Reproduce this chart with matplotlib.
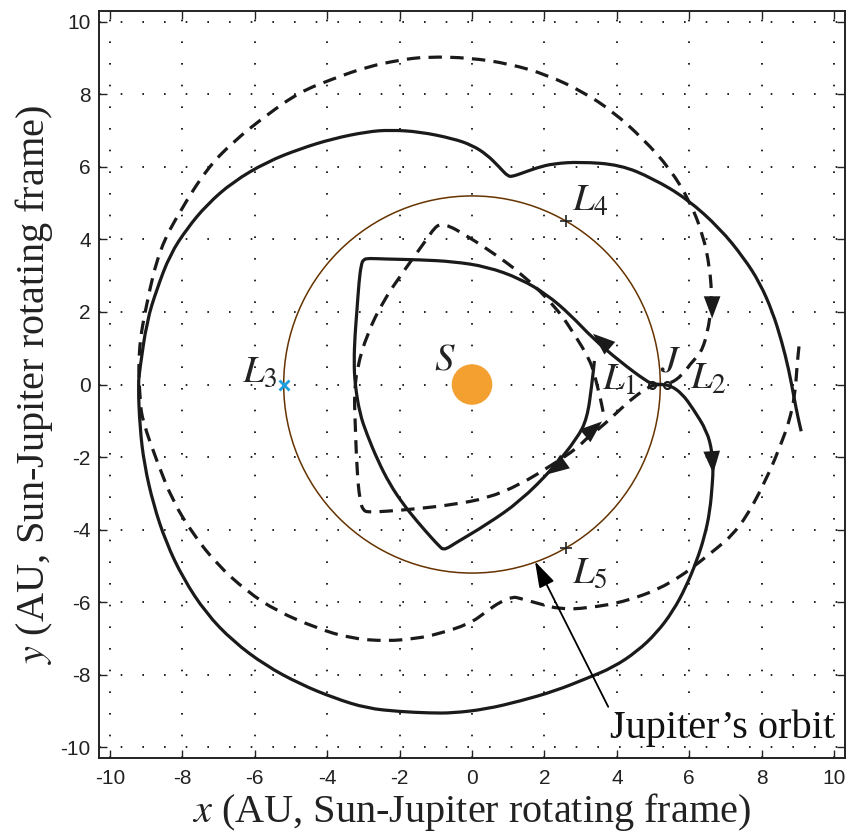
import numpy as np
import matplotlib
matplotlib.use("Agg")
import matplotlib.pyplot as plt
from matplotlib.patches import Circle, PathPatch
from matplotlib.path import Path

plt.rcParams["mathtext.fontset"] = "stix"
plt.rcParams["font.family"] = ["Liberation Serif", "DejaVu Serif"]
plt.rcParams["axes.unicode_minus"] = False

# ---- data (AU, rotating frame) ----
R_JUP = 5.2
R_SUN = 0.54

# unstable branch (solid), interior piece: from J round the inner loop
solid_in_x = [5.2, 5.0, 4.83, 4.09, 3.34, 2.71, 2.07, 1.33, 0.41, -0.52, -1.44,
              -2.4, -2.85, -3.0, -3.06, -3.12, -3.18, -3.23, -3.26, -3.23, -3.1,
              -2.9, -2.6, -2.27, -1.9, -1.52, -1.1, -0.88, -0.8, -0.65, -0.52,
              0.41, 1.33, 2.24, 2.9, 3.18, 3.31, 3.38]
solid_in_y = [0.0, 0.02, 0.08, 0.63, 1.27, 1.93, 2.48, 2.92, 3.25, 3.39, 3.44,
              3.46, 3.48, 3.45, 3.3, 2.84, 2.0, 1.38, 0.63, 0.0, -0.8,
              -1.38, -2.1, -2.75, -3.3, -3.77, -4.25, -4.48, -4.55, -4.5, -4.41,
              -3.86, -3.22, -2.31, -1.49, -0.94, 0.0, 0.65]

# unstable branch (solid), exterior piece: from J round the outside
solid_out_x = [5.2, 5.47, 5.8, 6.1, 6.49, 6.63, 6.66, 6.64, 6.57, 6.42, 6.2,
               5.9, 5.55, 5.1, 4.56, 3.9, 3.18, 2.3, 1.33, 0.4, -0.52, -1.16,
               -2.0, -2.9, -3.8, -4.75, -5.7, -6.6, -7.35, -7.98, -8.45, -8.8,
               -9.05, -9.17, -9.22, -9.17, -8.98, -8.7, -8.34, -7.87, -7.32,
               -6.6, -5.66, -4.75, -3.84, -2.9, -2.27, -1.44, -0.52,
               0.0, 0.41, 0.75, 1.0, 1.15, 1.33, 1.8, 2.24, 2.98, 4.09, 5.0,
               5.94, 6.85, 7.5, 7.95, 8.3, 8.55, 8.75, 8.9, 9.0, 9.09]
solid_out_y = [0.0, -0.02, -0.25, -0.66, -1.29, -1.85, -2.3, -2.7, -3.5, -4.2,
               -4.88, -5.6, -6.25, -6.85, -7.36, -7.8, -8.1, -8.45, -8.73, -8.95,
               -9.06, -9.06, -9.02, -8.93, -8.65, -8.26, -7.75, -7.08, -6.3, -5.34,
               -4.35, -3.3, -2.2, -1.2, 0.0, 0.44, 1.74, 2.64, 3.58, 4.3, 4.96,
               5.59, 6.14, 6.5, 6.78, 6.97, 7.02, 6.97, 6.78, 6.6, 6.34,
               6.0, 5.73, 5.75, 5.81, 5.98, 6.09, 6.14, 6.06, 5.68, 5.12, 4.3,
               3.5, 2.8, 2.0, 1.2, 0.4, -0.4, -0.9, -1.29]

# stable branch (dashed), interior piece: from near L1 round the inner loop to J
dash_in_x = [3.62, 3.55, 3.45, 3.34, 3.18, 2.9, 2.35, 1.41, 0.41, -0.25, -0.6,
             -0.88, -1.05, -1.24, -1.9, -2.46, -2.9, -3.18, -3.25, -3.23, -3.18,
             -3.1, -3.0, -2.85, -2.4, -1.44, -0.52, 0.41, 1.33, 2.24, 2.9, 3.2,
             3.54, 4.09, 4.42, 4.92, 5.2]
dash_in_y = [-0.75, -0.4, 0.0, 0.44, 0.8, 1.27, 2.1, 3.03, 3.75, 4.16, 4.36,
             4.43, 4.3, 4.02, 3.11, 2.29, 1.38, 0.44, -0.3, -0.94, -2.31,
             -3.2, -3.48, -3.52, -3.5, -3.42, -3.31, -3.14, -2.76, -2.2, -1.76,
             -1.45, -1.2, -0.69, -0.39, -0.03, 0.0]

# stable branch (dashed), exterior piece: from the right end round to J
dash_out_x = [9.03, 8.98, 8.92, 8.76, 8.59, 8.15, 7.4, 6.57, 5.47, 4.28, 3.18,
              2.43, 1.8, 1.33, 1.13, 0.77, 0.41, -0.06, -0.97, -1.52, -2.35,
              -3.37, -4.28, -5.39, -6.22, -7.04, -7.7, -8.26, -8.7, -9.09,
              -9.17, -9.22, -8.98, -8.62, -8.07, -7.32, -6.6, -5.66, -4.75,
              -3.84, -2.9, -1.99, -1.24, -0.06, 1.05, 2.07, 3.07, 3.9, 4.72,
              5.47, 6.02, 6.38, 6.57, 6.63, 6.5, 6.3, 6.1, 5.8, 5.47, 5.2]
dash_out_y = [1.05, 0.58, -0.28, -1.02, -1.49, -2.59, -3.97, -4.68, -5.51, -5.98,
              -6.17, -6.2, -6.03, -5.9, -5.85, -6.0, -6.25, -6.6, -6.89, -7.0,
              -7.08, -7.0, -6.72, -6.25, -5.7, -4.96, -4.13, -3.22, -2.12, -1.02,
              -0.47, 0.9, 2.29, 3.75, 4.77, 5.95, 6.69, 7.44, 8.07, 8.43, 8.76,
              8.95, 9.04, 9.01, 8.84, 8.54, 8.07, 7.52, 6.78, 5.95, 5.04, 4.13,
              3.2, 2.29, 1.38, 0.83, 0.66, 0.25, 0.02, 0.0]

# direction arrows: (tail, tip)
arrows_solid = [((3.55, 1.22), (3.34, 1.40)),
                ((6.63, -2.0), (6.66, -2.45)),
                ((2.49, -2.18), (2.07, -2.48))]
arrows_dash = [((6.63, 2.48), (6.63, 1.82)),
               ((3.2, -1.35), (3.59, -1.02))]

# Lagrange points and labels
L4 = (2.6, 4.5)
L5 = (2.6, -4.5)
L3 = (-5.2, 0.0)
lyap_x = [4.98, 5.38]
lyap_y = [0.0, 0.0]
labels = [("$L_3$", -6.35, 0.08), ("$L_4$", 2.76, 4.79), ("$L_5$", 2.76, -5.48),
          ("$L_1$", 3.59, -0.14), ("$L_2$", 6.02, -0.11), ("$J$", 5.2, 0.36),
          ("$S$", -1.05, 0.41)]

ticks = np.arange(-10, 11, 2)
INK = "#1a1a1a"


def smooth(xs, ys):
    # quadratic bezier through midpoints, read points act as control points
    p = np.column_stack([xs, ys])
    m = (p[:-1] + p[1:]) / 2
    verts = [p[0], m[0]]
    codes = [Path.MOVETO, Path.LINETO]
    for i in range(1, len(p) - 1):
        verts += [p[i], m[i]]
        codes += [Path.CURVE3, Path.CURVE3]
    verts.append(p[-1])
    codes.append(Path.LINETO)
    return Path(verts, codes)


def trace(ax, xs, ys, ls):
    ax.add_patch(PathPatch(smooth(xs, ys), fill=False, edgecolor=INK, lw=2.3,
                           linestyle=ls, capstyle="butt", joinstyle="round",
                           zorder=3))


# ---- figure ----
fig = plt.figure(figsize=(8.47, 8.32), dpi=100)
ax = fig.add_axes([99 / 847, 1 - 758 / 832, (845 - 99) / 847, (758 - 11) / 832])
ax.set_xlim(-10.3, 10.3)
ax.set_ylim(-10.3, 10.3)

ax.set_xticks(ticks)
ax.set_yticks(ticks)
ax.grid(True, color="k", linewidth=1.2, linestyle=(0, (1, 12)))
ax.set_axisbelow(True)
ax.tick_params(direction="in", top=True, right=True, length=6, width=1,
               labelsize=15, colors="#222222", pad=8)
ax.tick_params(axis="y", pad=6)
for lab in ax.get_xticklabels() + ax.get_yticklabels():
    lab.set_fontfamily("Liberation Sans")
for sp in ax.spines.values():
    sp.set_linewidth(1.4)
    sp.set_color("#222222")

ax.add_patch(Circle((0, 0), R_JUP, fill=False, edgecolor="#663300", lw=1.1, zorder=2))

trace(ax, solid_in_x, solid_in_y, "-")
trace(ax, solid_out_x, solid_out_y, "-")
trace(ax, dash_in_x, dash_in_y, (0, (4.2, 2.6)))
trace(ax, dash_out_x, dash_out_y, (0, (4.2, 2.6)))

for tail, tip in arrows_solid + arrows_dash:
    ax.annotate("", xy=tip, xytext=tail,
                arrowprops=dict(arrowstyle="-|>,head_length=0.8,head_width=0.3",
                                color=INK, lw=0, shrinkA=0, shrinkB=0,
                                mutation_scale=20), zorder=4)

ax.add_patch(Circle((0, 0), R_SUN, color="#F4A030", zorder=5))

ax.plot(*L4, marker="+", color="#222222", ms=9, mew=1.2, zorder=5)
ax.plot(*L5, marker="+", color="#222222", ms=9, mew=1.2, zorder=5)
ax.plot(*L3, marker="x", color="#1EA0E0", ms=7, mew=2, zorder=5)
ax.plot(lyap_x, lyap_y, "o", ms=5, mfc="none", mec=INK, mew=1.5, zorder=5)

for txt, x, y in labels:
    ax.text(x, y, txt, fontsize=28, color="#222222", ha="left", va="baseline", zorder=6)

ax.annotate("Jupiter\u2019s orbit", xy=(1.74, -4.88), xytext=(3.8, -9.75),
            fontsize=29, color="#111111", ha="left", va="baseline",
            arrowprops=dict(arrowstyle="-|>,head_length=0.8,head_width=0.25",
                            color="black", lw=1.3, shrinkA=0, shrinkB=0,
                            mutation_scale=20, relpos=(0.0, 1.0)),
            zorder=6)

ax.set_xlabel("$x$ (AU, Sun-Jupiter rotating frame)", fontsize=29, color="#222222",
              labelpad=2)
ax.set_ylabel("$y$ (AU, Sun-Jupiter rotating frame)", fontsize=29, color="#222222",
              labelpad=4)

fig.savefig("out.png", dpi=100)
